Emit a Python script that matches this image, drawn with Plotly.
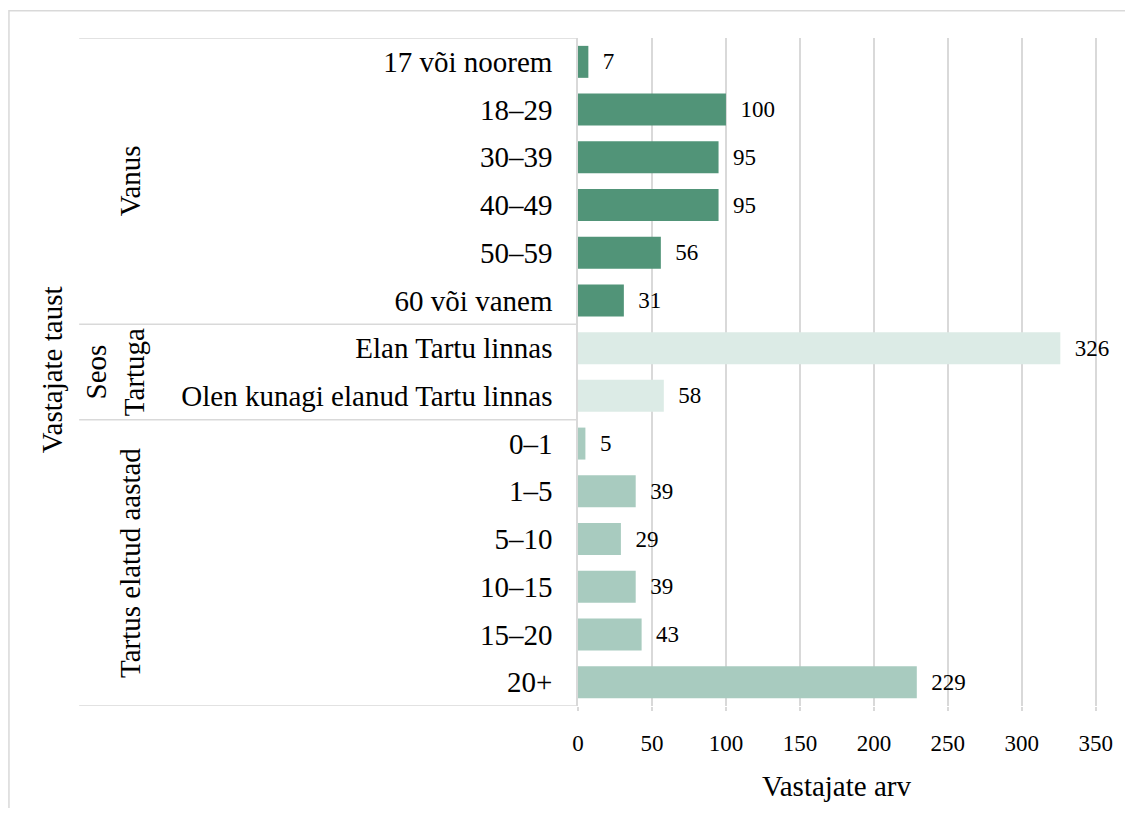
import plotly.graph_objects as go

categories = [
    "17 või noorem", "18–29", "30–39", "40–49", "50–59", "60 või vanem",
    "Elan Tartu linnas", "Olen kunagi elanud Tartu linnas",
    "0–1", "1–5", "5–10", "10–15", "15–20", "20+",
]
values = [7, 100, 95, 95, 56, 31, 326, 58, 5, 39, 29, 39, 43, 229]
groups = ["Vanus", "Seos<br>Tartuga", "Tartus elatud aastad"]
group_sizes = [6, 2, 6]
group_colors = ["#519478", "#dcebe6", "#a8cbbf"]
x_ticks = [0, 50, 100, 150, 200, 250, 300, 350]

FONT = "Liberation Serif, Times New Roman, serif"
GRID = "#d9d9d9"

colors = []
for c, n in zip(group_colors, group_sizes):
    colors += [c] * n

pos = list(range(len(categories)))

# page has an 8px body margin: figure coords = page coords - 8
OFF = 8
FW, FH = 1133 - 2 * OFF, 816 - 2 * OFF
XMAX = 350.8
L = 578 - OFF
T = 38 - OFF
B = 706 - OFF
R = L + 518 * XMAX / 350
W, H = R - L, B - T


def px(page_x):
    return (page_x - OFF - L) / W


def py(page_y):
    return (B - (page_y - OFF)) / H


fig = go.Figure()
fig.add_trace(go.Bar(
    x=values, y=pos, orientation="h",
    marker=dict(color=colors, line=dict(width=0)),
    width=0.67,
    text=[f"\u00a0\u00a0{v}" for v in values],
    textposition="outside", cliponaxis=False, constraintext="none",
    textfont=dict(family=FONT, size=23, color="#000000"),
    hoverinfo="skip",
))

shapes = []
# outer border
shapes.append(dict(type="rect", xref="paper", yref="paper",
                   x0=px(8.75), x1=px(1160), y0=py(840), y1=py(10.75),
                   line=dict(color=GRID, width=1.5), fillcolor="rgba(0,0,0,0)", layer="below"))
# group separator lines
bounds = [-0.5]
acc = -0.5
for n in group_sizes:
    acc += n
    bounds.append(acc)
for b in bounds:
    shapes.append(dict(type="line", xref="paper", yref="y",
                       x0=px(79), x1=0, y0=b, y1=b,
                       line=dict(color=GRID, width=1.5)))

annotations = []
acc = -0.5
group_x = [130, 115, 130]
for g, n, gx in zip(groups, group_sizes, group_x):
    annotations.append(dict(text=g, xref="paper", yref="y", x=px(gx), y=acc + n / 2,
                            showarrow=False, textangle=-90, xanchor="center", yanchor="middle",
                            font=dict(family=FONT, size=29, color="#000000")))
    acc += n
annotations.append(dict(text="Vastajate taust", xref="paper", yref="paper", x=px(52), y=py(370),
                        showarrow=False, textangle=-90, xanchor="center", yanchor="middle",
                        font=dict(family=FONT, size=29, color="#000000")))
annotations.append(dict(text="Vastajate arv", xref="paper", yref="paper", x=px(837), y=py(786),
                        showarrow=False, xanchor="center", yanchor="middle",
                        font=dict(family=FONT, size=29, color="#000000")))

fig.update_layout(
    width=FW, height=FH,
    margin=dict(l=L, r=FW - R, t=T, b=FH - B, pad=0),
    paper_bgcolor="white", plot_bgcolor="white",
    showlegend=False,
    shapes=shapes, annotations=annotations,
    font=dict(family=FONT, color="#000000"),
    xaxis=dict(range=[0, XMAX], tickvals=x_ticks, showgrid=True, gridcolor=GRID, gridwidth=1.5,
               zeroline=False, showline=False, ticks="outside", ticklen=4, tickcolor=GRID,
               tickwidth=1.5, tickfont=dict(family=FONT, size=23, color="#000000"),
               ticklabelstandoff=12),
    yaxis=dict(range=[len(categories) - 0.5, -0.5], tickvals=pos, ticktext=categories,
               showgrid=False, zeroline=False, showline=True, linecolor=GRID, linewidth=1.5,
               ticks="", tickfont=dict(family=FONT, size=29, color="#000000"),
               ticklabelstandoff=18),
)

fig.write_html("out.html")
